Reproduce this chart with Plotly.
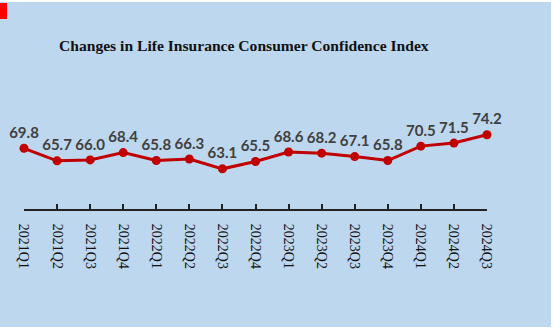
import plotly.graph_objects as go

quarters = ["2021Q1", "2021Q2", "2021Q3", "2021Q4", "2022Q1", "2022Q2", "2022Q3", "2022Q4",
            "2023Q1", "2023Q2", "2023Q3", "2023Q4", "2024Q1", "2024Q2", "2024Q3"]
index_values = [69.8, 65.7, 66.0, 68.4, 65.8, 66.3, 63.1, 65.5,
                68.6, 68.2, 67.1, 65.8, 70.5, 71.5, 74.2]
title_text = "Changes in Life Insurance Consumer Confidence Index"

W, H = 555, 331
L, R, T, B = 24, 68, 117, 122
pw, ph = W - L - R, H - T - B

def px_x(p):
    return (p - L) / pw

def px_y(p):
    return (H - B - p) / ph

fig = go.Figure()
fig.add_trace(go.Scatter(
    x=list(range(len(quarters))), y=index_values,
    mode="lines+markers+text",
    line=dict(color="#C00000", width=3),
    marker=dict(color="#C00000", size=9),
    text=[f"{v:.1f}" for v in index_values],
    textposition="top center",
    textfont=dict(family="Lato, Open Sans, sans-serif", size=15, color="#404040", weight="bold"),
    cliponaxis=False,
    hoverinfo="skip",
))

fig.update_layout(
    width=W, height=H,
    margin=dict(l=L, r=R, t=T, b=B, autoexpand=False),
    paper_bgcolor="white",
    plot_bgcolor="rgba(0,0,0,0)",
    showlegend=False,
    xaxis=dict(
        range=[0, len(quarters) - 1],
        tickmode="array", tickvals=list(range(len(quarters))), ticktext=quarters,
        tickangle=90,
        tickfont=dict(family="Liberation Serif", size=14, color="#111111"),
        ticklabelstandoff=10,
        showline=True, linecolor="#222222", linewidth=2,
        ticks="inside", ticklen=5, tickcolor="#222222", tickwidth=1.5,
        showgrid=False, zeroline=False, fixedrange=True,
    ),
    yaxis=dict(range=[50, 80], visible=False, showgrid=False, fixedrange=True),
    shapes=[
        dict(type="rect", xref="paper", yref="paper", layer="below",
             x0=px_x(0), x1=px_x(551), y0=px_y(2), y1=px_y(327),
             fillcolor="#BDD7EE", line=dict(width=0)),
        dict(type="rect", xref="paper", yref="paper", layer="above",
             x0=px_x(0), x1=px_x(7), y0=px_y(3), y1=px_y(19),
             fillcolor="#FF0000", line=dict(width=0)),
    ],
    annotations=[
        dict(text=f"<b>{title_text}</b>", xref="paper", yref="paper",
             x=px_x(243.5), y=px_y(45), xanchor="center", yanchor="middle",
             showarrow=False,
             font=dict(family="Liberation Serif", size=15.6, color="#111111")),
    ],
)

fig.write_html("out.html")
